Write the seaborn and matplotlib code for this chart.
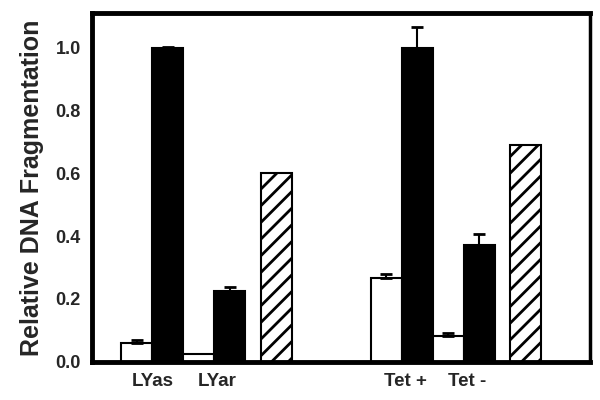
import pandas as pd
import matplotlib
matplotlib.use("Agg")
from matplotlib import pyplot as plt
import seaborn as sns

# Значения
positions = [1.45, 2.45, 3.45, 4.45, 5.95, 9.5, 10.5, 11.5, 12.5, 14.0]
kinds = ['white', 'black', 'white', 'black', 'hatch',
         'white', 'black', 'white', 'black', 'hatch']
values = [0.060, 1.000, 0.024, 0.226, 0.600,
          0.266, 1.000, 0.083, 0.371, 0.690]
errors = [0.009, 0.003, 0.0, 0.011, 0.0,
          0.012, 0.067, 0.007, 0.036, 0.0]
group_labels = ['LYas', 'LYar', 'Tet +', 'Tet -']
label_pos = [1.95, 4.05, 10.1, 12.1]

df = pd.DataFrame({'pos': positions, 'val': values, 'kind': kinds})

sns.set_style('white')
plt.rcParams['font.family'] = ['Liberation Sans', 'DejaVu Sans']
plt.rcParams['font.weight'] = 'bold'
plt.rcParams['hatch.linewidth'] = 2.0

fig = plt.figure(figsize=(6, 4), dpi=100)
ax = fig.add_axes([0.153, 0.096, 0.83, 0.871])

sns.barplot(data=df, x='pos', y='val', native_scale=True, width=1.0,
            color='white', edgecolor='black', linewidth=1.5,
            errorbar=None, ax=ax)

# раскраска столбцов
for patch, kind in zip(sorted(ax.patches, key=lambda p: p.get_x()), kinds):
    if kind == 'black':
        patch.set_facecolor('black')
    elif kind == 'hatch':
        patch.set_facecolor('white')
        patch.set_hatch('//')
    patch.set_edgecolor('black')

# планки погрешностей (только вверх)
for x, v, e in zip(positions, values, errors):
    if e > 0:
        ax.errorbar(x, v, yerr=[[0], [e]], fmt='none', ecolor='black',
                    elinewidth=1.5, capsize=4, capthick=2)

ax.set_xlim(0, 16.06)
ax.set_ylim(0, 1.11)
ax.set_yticks([0.0, 0.2, 0.4, 0.6, 0.8, 1.0])
ax.set_yticklabels(['0.0', '0.2', '0.4', '0.6', '0.8', '1.0'],
                   fontsize=13, fontweight='bold')
ax.set_xticks(label_pos)
ax.set_xticklabels(group_labels, fontsize=13.5, fontweight='bold')
ax.tick_params(axis='y', direction='in', length=4, width=2, pad=8)
ax.tick_params(axis='x', length=0, pad=8)
ax.set_xlabel('')
ax.set_ylabel('Relative DNA Fragmentation', fontsize=18, fontweight='bold',
              labelpad=8)

for side in ['left', 'top', 'bottom']:
    ax.spines[side].set_linewidth(3.5)
    ax.spines[side].set_color('black')
ax.spines['right'].set_linewidth(2.5)
ax.spines['right'].set_color('black')

fig.savefig('out.png', dpi=100)
